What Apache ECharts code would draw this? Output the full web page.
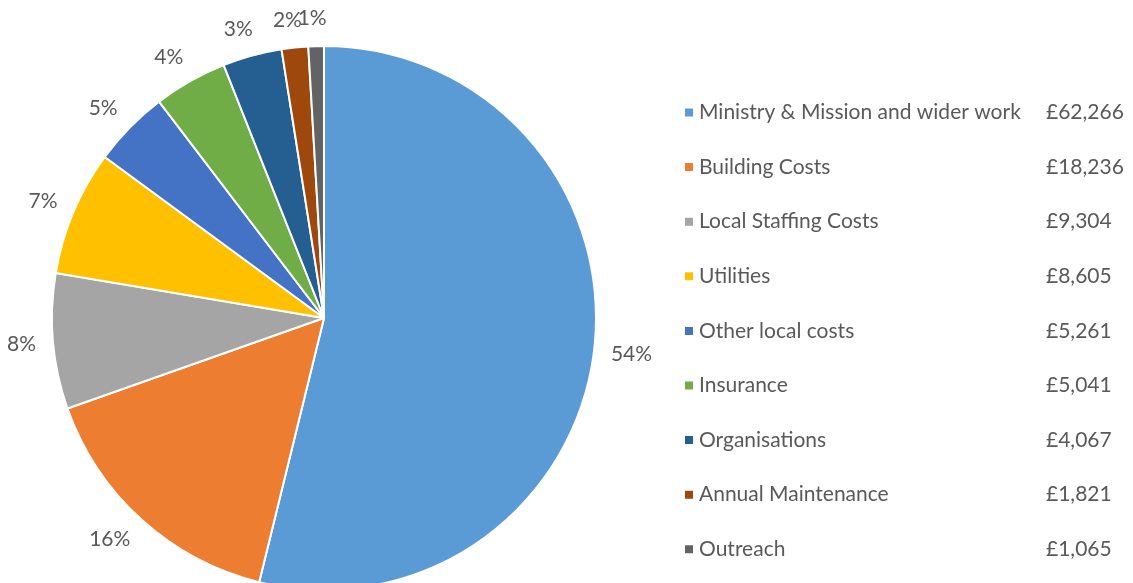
<!DOCTYPE html>
<html>
<head>
<meta charset="utf-8">
<script src="https://cdn.jsdelivr.net/npm/echarts@6/dist/echarts.min.js"></script>
<style>
  html, body { margin: 0; padding: 0; background: #fff; }
  #chart { width: 1133px; height: 583px; }
</style>
</head>
<body>
<div id="chart"></div>
<script>
const categories = [
  'Ministry & Mission and wider work',
  'Building Costs',
  'Local Staffing Costs',
  'Utilities',
  'Other local costs',
  'Insurance',
  'Organisations',
  'Annual Maintenance',
  'Outreach'
]
const amounts = [62266, 18236, 9304, 8605, 5261, 5041, 4067, 1821, 1065]
const percentLabels = ['54%', '16%', '8%', '7%', '5%', '4%', '3%', '2%', '1%']
const colors = ['#5B9BD5', '#ED7D31', '#A5A5A5', '#FFC000', '#4472C4', '#70AD47', '#255E91', '#9E480E', '#636363']

const font = 'Lato, "Noto Sans", sans-serif'
const textColor = '#595959'
const fontSize = 21
const pieCenter = [324, 318]

const chart = echarts.init(document.getElementById('chart'))

const option = {
  color: colors,
  animation: false,
  legend: {
    orient: 'vertical',
    left: 683,
    top: 102,
    padding: 0,
    icon: 'rect',
    itemWidth: 10,
    itemHeight: 10,
    itemGap: 33.6,
    formatter: (name) => {
      const i = categories.indexOf(name)
      return '{n|' + name + '}{v|£' + amounts[i].toLocaleString('en-GB') + '}'
    },
    textStyle: {
      color: textColor,
      fontFamily: font,
      fontSize: fontSize,
      rich: {
        n: { width: 347, fontSize: fontSize, fontFamily: font, color: textColor, lineHeight: 21 },
        v: { fontSize: fontSize, fontFamily: font, color: textColor, lineHeight: 21 }
      }
    }
  },
  series: [
    {
      type: 'pie',
      center: pieCenter,
      radius: 272,
      startAngle: 90,
      clockwise: true,
      avoidLabelOverlap: false,
      data: categories.map((name, i) => ({ name, value: amounts[i] })),
      itemStyle: {
        borderColor: '#fff',
        borderWidth: 2
      },
      label: {
        show: true,
        position: 'outside',
        formatter: (p) => percentLabels[p.dataIndex],
        color: textColor,
        fontFamily: font,
        fontSize: fontSize
      },
      labelLine: {
        show: false,
        length: 12,
        length2: 0
      },
      labelLayout: (params) => {
        // nudge labels outward like Excel's outside-end labels
        const r = params.labelRect
        const lx = r.x + r.width / 2
        const ly = r.y + r.height / 2
        const d = Math.hypot(lx - pieCenter[0], ly - pieCenter[1]) || 1
        const ux = (lx - pieCenter[0]) / d
        const uy = (ly - pieCenter[1]) / d
        const k = Math.pow(1 - Math.abs(ux), 2)
        return {
          dx: -Math.sign(ux) * (5 + r.width / 2) * k,
          dy: uy * r.height * 0.75
        }
      }
    }
  ]
}

chart.setOption(option)
</script>
</body>
</html>
